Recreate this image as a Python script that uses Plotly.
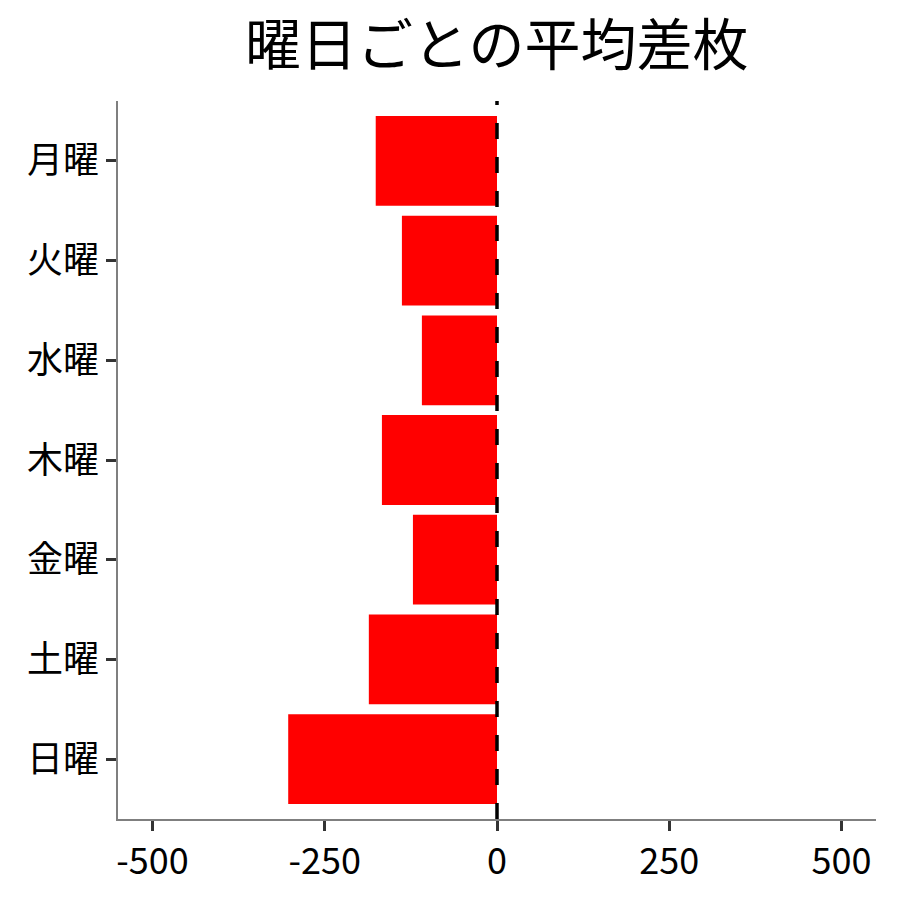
import plotly.graph_objects as go

days = ["月曜", "火曜", "水曜", "木曜", "金曜", "土曜", "日曜"]
avg_diff = [-176, -138, -109, -167, -122, -186, -303]

x_ticks = [-500, -250, 0, 250, 500]
x_tick_labels = ["-500", "-250", "0", "250", "500"]

font_family = "Noto Sans CJK JP"

fig = go.Figure()
fig.add_trace(go.Bar(
    x=avg_diff,
    y=days,
    orientation="h",
    width=0.9,
    marker=dict(color="#ff0000", line=dict(width=0)),
    showlegend=False,
))

# zero reference line
fig.add_shape(
    type="line", xref="x", yref="paper",
    x0=0, x1=0, y0=0, y1=1,
    line=dict(color="black", width=3.5, dash="16px,18px"),
    layer="above",
)

axis_style = dict(
    showgrid=False,
    zeroline=False,
    showline=True,
    linecolor="#7f7f7f",
    linewidth=1.5,
    ticks="outside",
    ticklen=10,
    tickwidth=3,
    tickcolor="#333333",
    tickfont=dict(family=font_family, size=36, color="black"),
)

fig.update_layout(
    width=900,
    height=900,
    margin=dict(l=110, r=32, t=93, b=89),
    paper_bgcolor="white",
    plot_bgcolor="white",
    font=dict(family=font_family, color="black", size=36),
    title=dict(
        text="曜日ごとの平均差枚",
        font=dict(family=font_family, size=56, color="black"),
        x=0.543, xanchor="center",
        y=0.958, yanchor="middle",
    ),
    xaxis=dict(range=[-550, 550], tickvals=x_ticks, ticktext=x_tick_labels, **axis_style),
    yaxis=dict(categoryorder="array", categoryarray=days[::-1],
               range=[-0.6, 6.6], **axis_style),
)

fig.write_html("out.html")
